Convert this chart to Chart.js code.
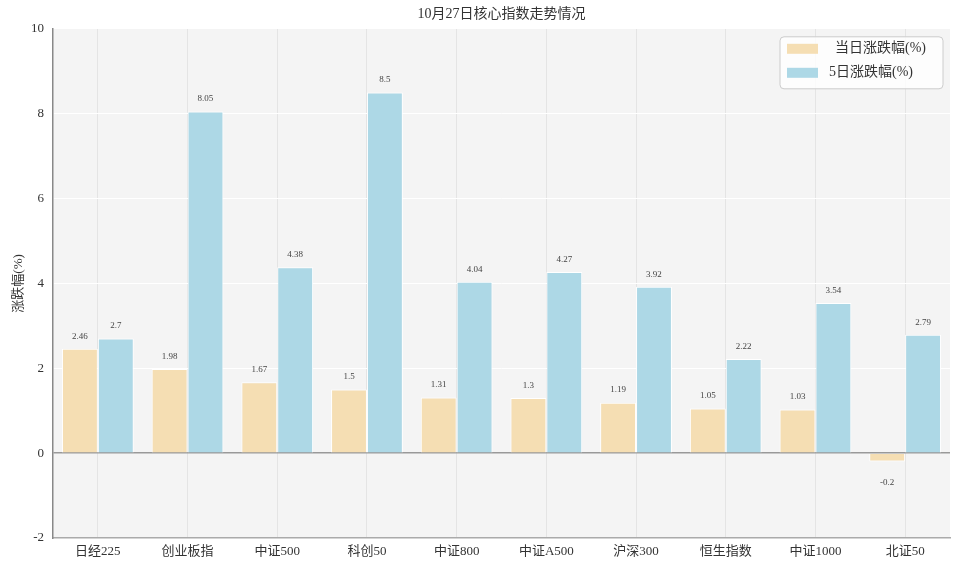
<!DOCTYPE html>
<html><head><meta charset="utf-8">
<script src="https://cdn.jsdelivr.net/npm/chart.js@4"></script>
<style>html,body{margin:0;padding:0;background:#fff}#wrap{width:960px;height:570px}</style>
</head><body><div id="wrap"><canvas id="c"></canvas></div>
<script>
const categories = ['日经225','创业板指','中证500','科创50','中证800','中证A500','沪深300','恒生指数','中证1000','北证50'];
const dailyChange = [2.46, 1.98, 1.67, 1.5, 1.31, 1.3, 1.19, 1.05, 1.03, -0.2];
const fiveDayChange = [2.7, 8.05, 4.38, 8.5, 4.04, 4.27, 3.92, 2.22, 3.54, 2.79];
const seriesNames = ['当日涨跌幅(%)', '5日涨跌幅(%)'];
const yTicks = [-2, 0, 2, 4, 6, 8, 10];

const FONT = "'Liberation Serif','DejaVu Serif','Noto Sans CJK SC',serif";
const colors = ['#F5DEB3', '#ADD8E6'];

const bgPlugin = {
  id: 'bg',
  beforeDraw(chart) {
    const {ctx, chartArea: a} = chart;
    ctx.save(); ctx.fillStyle = '#f4f4f4';
    ctx.fillRect(a.left, a.top, a.right - a.left, a.bottom - a.top);
    ctx.restore();
  }
};
const labelPlugin = {
  id: 'labels',
  afterDatasetsDraw(chart) {
    const {ctx} = chart;
    ctx.save();
    ctx.font = "9px " + FONT; ctx.fillStyle = '#444'; ctx.textAlign = 'center';
    chart.data.datasets.forEach((ds, i) => {
      chart.getDatasetMeta(i).data.forEach((bar, j) => {
        const v = ds.data[j];
        if (v >= 0) { ctx.textBaseline = 'bottom'; ctx.fillText(String(v), bar.x, bar.y - 8); }
        else { ctx.textBaseline = 'middle'; ctx.fillText(String(v), bar.x, bar.y + 21); }
      });
    });
    ctx.restore();
  }
};
const legendPlugin = {
  id: 'customLegend',
  afterDraw(chart) {
    const {ctx, chartArea: a} = chart;
    const w = 163, h = 52, x = a.right - 7 - w, y = a.top + 8;
    ctx.save();
    ctx.beginPath(); ctx.roundRect(x, y, w, h, 4);
    ctx.fillStyle = 'rgba(255,255,255,0.8)'; ctx.fill();
    ctx.strokeStyle = '#cccccc'; ctx.lineWidth = 1; ctx.stroke();
    ctx.font = "14px " + FONT; ctx.fillStyle = '#333'; ctx.textBaseline = 'middle'; ctx.textAlign = 'left';
    seriesNames.forEach((n, i) => {
      const ry = y + 12 + i * 24;
      ctx.fillStyle = colors[i]; ctx.fillRect(x + 7, ry - 5, 31, 10);
      ctx.fillStyle = '#333'; ctx.fillText(n, x + (i === 0 ? 55 : 49), ry);
    });
    ctx.restore();
  }
};

new Chart(document.getElementById('c'), {
  type: 'bar',
  data: {
    labels: categories,
    datasets: [
      {label: seriesNames[0], data: dailyChange, backgroundColor: colors[0], borderColor: '#fff', borderWidth: 1, categoryPercentage: 0.8, barPercentage: 1.0},
      {label: seriesNames[1], data: fiveDayChange, backgroundColor: colors[1], borderColor: '#fff', borderWidth: 1, categoryPercentage: 0.8, barPercentage: 1.0}
    ]
  },
  options: {
    responsive: true, maintainAspectRatio: false, animation: false,
    layout: {padding: {left: 11, right: 10, top: 0, bottom: 0}},
    plugins: {
      legend: {display: false},
      tooltip: {enabled: false},
      title: {display: true, fullSize: false, text: '10月27日核心指数走势情况', color: '#333', font: {family: FONT, size: 14, weight: 'normal'}, padding: {top: 6, bottom: 6}}
    },
    scales: {
      x: {
        grid: {offset: false, color: '#e4e4e4', lineWidth: 1, drawTicks: false, borderDash: [2, 2]},
        border: {display: true, color: '#aaa', width: 1.5},
        ticks: {color: '#333', font: {family: FONT, size: 13}, padding: 6},
        afterFit(s) { s.height = 32; }
      },
      y: {
        min: -2, max: 10,
        afterBuildTicks(s) { s.ticks = yTicks.map(v => ({value: v})); },
        grid: {color: c => c.tick && c.tick.value === 0 ? '#999' : '#ffffff', lineWidth: c => c.tick && c.tick.value === 0 ? 1.5 : 1, drawTicks: false},
        border: {display: true, color: '#888', width: 1.5},
        ticks: {color: '#333', font: {family: FONT, size: 13}, padding: 9},
        title: {display: true, text: '涨跌幅(%)', color: '#333', font: {family: FONT, size: 13}, padding: {top: 0, bottom: 4}},
        afterFit(s) { s.width = 42; }
      }
    }
  },
  plugins: [bgPlugin, labelPlugin, legendPlugin]
});
</script></body></html>
